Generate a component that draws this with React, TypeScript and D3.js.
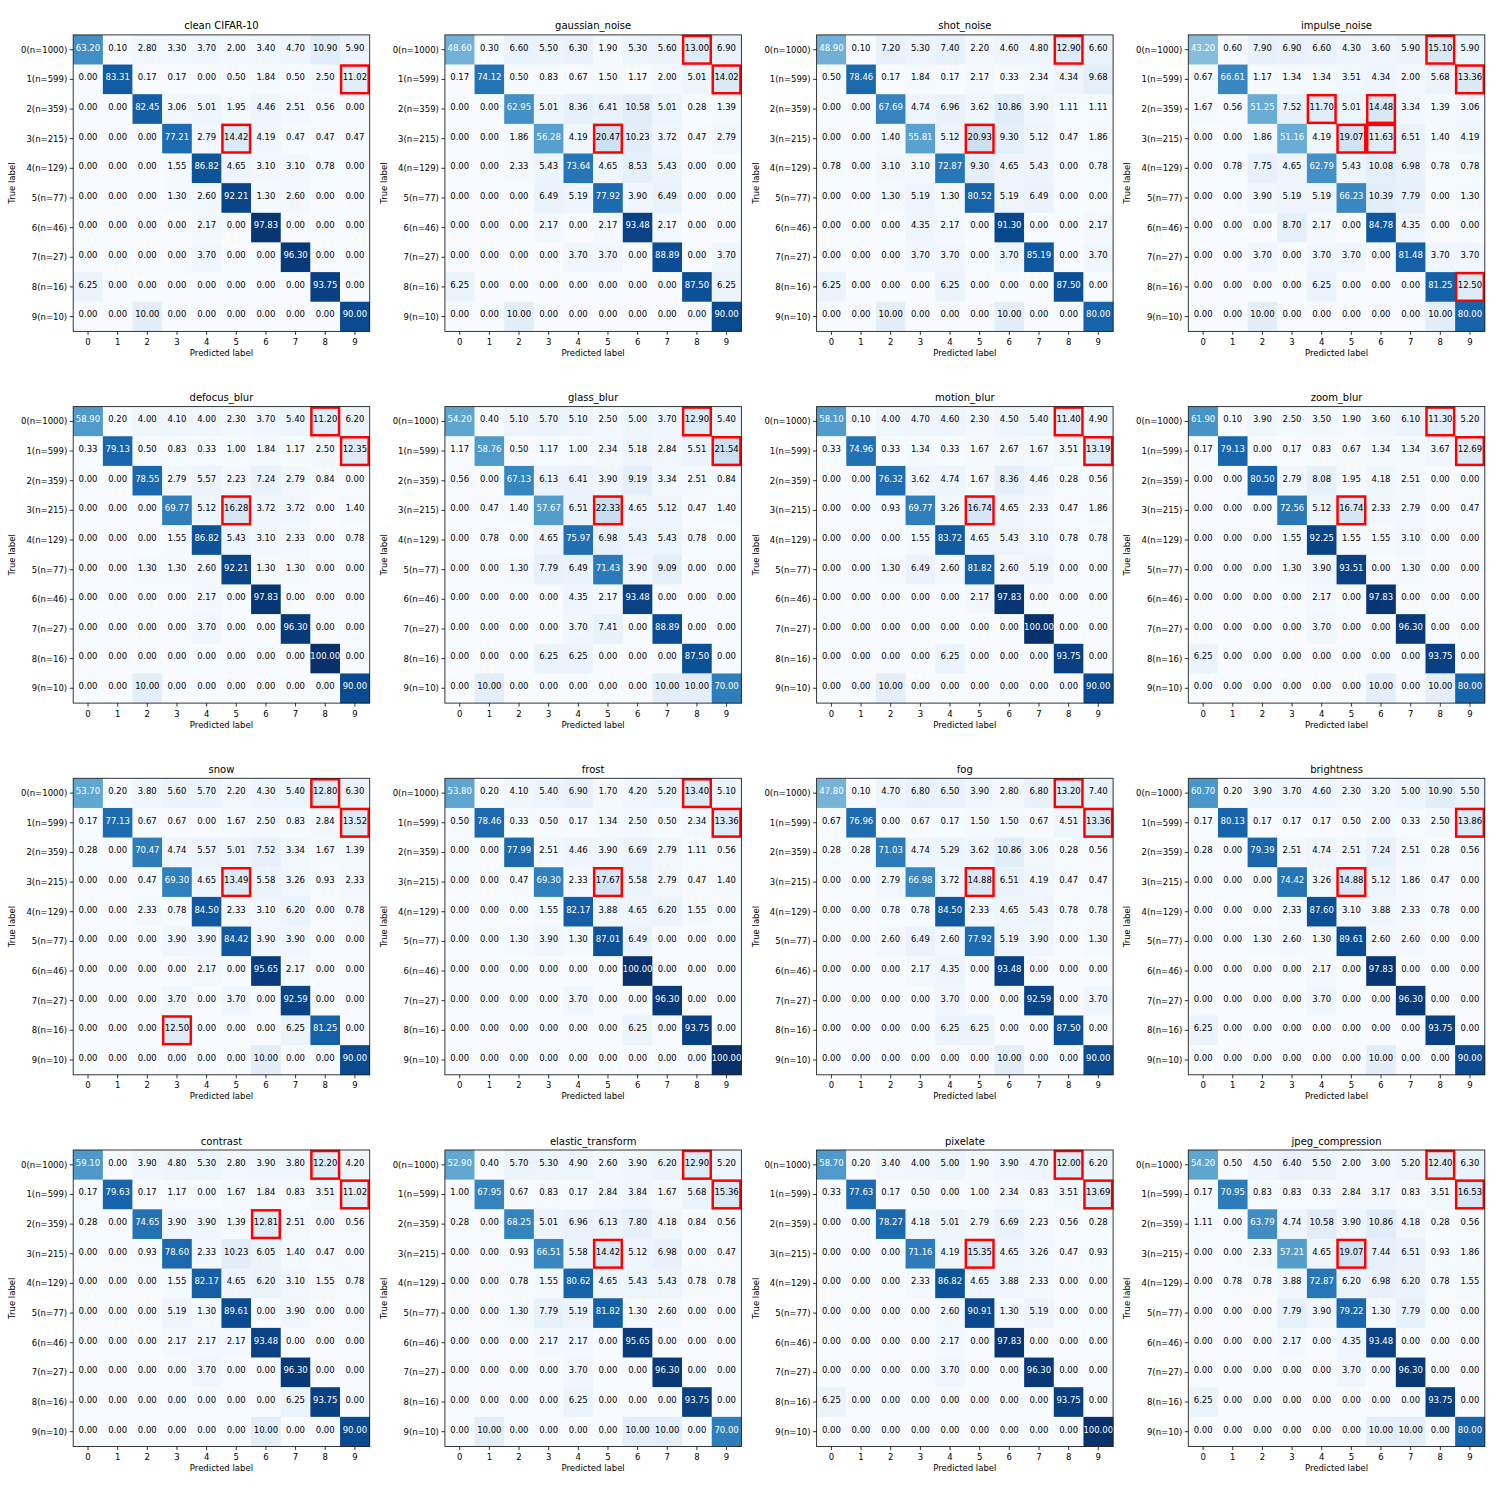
import { useMemo } from 'react';
import * as d3 from 'd3';

// one 10x10 matrix (row-normalised %) per corruption
const cleanCifar10 = [
  [63.2, 0.1, 2.8, 3.3, 3.7, 2.0, 3.4, 4.7, 10.9, 5.9],
  [0.0, 83.31, 0.17, 0.17, 0.0, 0.5, 1.84, 0.5, 2.5, 11.02],
  [0.0, 0.0, 82.45, 3.06, 5.01, 1.95, 4.46, 2.51, 0.56, 0.0],
  [0.0, 0.0, 0.0, 77.21, 2.79, 14.42, 4.19, 0.47, 0.47, 0.47],
  [0.0, 0.0, 0.0, 1.55, 86.82, 4.65, 3.1, 3.1, 0.78, 0.0],
  [0.0, 0.0, 0.0, 1.3, 2.6, 92.21, 1.3, 2.6, 0.0, 0.0],
  [0.0, 0.0, 0.0, 0.0, 2.17, 0.0, 97.83, 0.0, 0.0, 0.0],
  [0.0, 0.0, 0.0, 0.0, 3.7, 0.0, 0.0, 96.3, 0.0, 0.0],
  [6.25, 0.0, 0.0, 0.0, 0.0, 0.0, 0.0, 0.0, 93.75, 0.0],
  [0.0, 0.0, 10.0, 0.0, 0.0, 0.0, 0.0, 0.0, 0.0, 90.0],
];
const gaussianNoise = [
  [48.6, 0.3, 6.6, 5.5, 6.3, 1.9, 5.3, 5.6, 13.0, 6.9],
  [0.17, 74.12, 0.5, 0.83, 0.67, 1.5, 1.17, 2.0, 5.01, 14.02],
  [0.0, 0.0, 62.95, 5.01, 8.36, 6.41, 10.58, 5.01, 0.28, 1.39],
  [0.0, 0.0, 1.86, 56.28, 4.19, 20.47, 10.23, 3.72, 0.47, 2.79],
  [0.0, 0.0, 2.33, 5.43, 73.64, 4.65, 8.53, 5.43, 0.0, 0.0],
  [0.0, 0.0, 0.0, 6.49, 5.19, 77.92, 3.9, 6.49, 0.0, 0.0],
  [0.0, 0.0, 0.0, 2.17, 0.0, 2.17, 93.48, 2.17, 0.0, 0.0],
  [0.0, 0.0, 0.0, 0.0, 3.7, 3.7, 0.0, 88.89, 0.0, 3.7],
  [6.25, 0.0, 0.0, 0.0, 0.0, 0.0, 0.0, 0.0, 87.5, 6.25],
  [0.0, 0.0, 10.0, 0.0, 0.0, 0.0, 0.0, 0.0, 0.0, 90.0],
];
const shotNoise = [
  [48.9, 0.1, 7.2, 5.3, 7.4, 2.2, 4.6, 4.8, 12.9, 6.6],
  [0.5, 78.46, 0.17, 1.84, 0.17, 2.17, 0.33, 2.34, 4.34, 9.68],
  [0.0, 0.0, 67.69, 4.74, 6.96, 3.62, 10.86, 3.9, 1.11, 1.11],
  [0.0, 0.0, 1.4, 55.81, 5.12, 20.93, 9.3, 5.12, 0.47, 1.86],
  [0.78, 0.0, 3.1, 3.1, 72.87, 9.3, 4.65, 5.43, 0.0, 0.78],
  [0.0, 0.0, 1.3, 5.19, 1.3, 80.52, 5.19, 6.49, 0.0, 0.0],
  [0.0, 0.0, 0.0, 4.35, 2.17, 0.0, 91.3, 0.0, 0.0, 2.17],
  [0.0, 0.0, 0.0, 3.7, 3.7, 0.0, 3.7, 85.19, 0.0, 3.7],
  [6.25, 0.0, 0.0, 0.0, 6.25, 0.0, 0.0, 0.0, 87.5, 0.0],
  [0.0, 0.0, 10.0, 0.0, 0.0, 0.0, 10.0, 0.0, 0.0, 80.0],
];
const impulseNoise = [
  [43.2, 0.6, 7.9, 6.9, 6.6, 4.3, 3.6, 5.9, 15.1, 5.9],
  [0.67, 66.61, 1.17, 1.34, 1.34, 3.51, 4.34, 2.0, 5.68, 13.36],
  [1.67, 0.56, 51.25, 7.52, 11.7, 5.01, 14.48, 3.34, 1.39, 3.06],
  [0.0, 0.0, 1.86, 51.16, 4.19, 19.07, 11.63, 6.51, 1.4, 4.19],
  [0.0, 0.78, 7.75, 4.65, 62.79, 5.43, 10.08, 6.98, 0.78, 0.78],
  [0.0, 0.0, 3.9, 5.19, 5.19, 66.23, 10.39, 7.79, 0.0, 1.3],
  [0.0, 0.0, 0.0, 8.7, 2.17, 0.0, 84.78, 4.35, 0.0, 0.0],
  [0.0, 0.0, 3.7, 0.0, 3.7, 3.7, 0.0, 81.48, 3.7, 3.7],
  [0.0, 0.0, 0.0, 0.0, 6.25, 0.0, 0.0, 0.0, 81.25, 12.5],
  [0.0, 0.0, 10.0, 0.0, 0.0, 0.0, 0.0, 0.0, 10.0, 80.0],
];
const defocusBlur = [
  [58.9, 0.2, 4.0, 4.1, 4.0, 2.3, 3.7, 5.4, 11.2, 6.2],
  [0.33, 79.13, 0.5, 0.83, 0.33, 1.0, 1.84, 1.17, 2.5, 12.35],
  [0.0, 0.0, 78.55, 2.79, 5.57, 2.23, 7.24, 2.79, 0.84, 0.0],
  [0.0, 0.0, 0.0, 69.77, 5.12, 16.28, 3.72, 3.72, 0.0, 1.4],
  [0.0, 0.0, 0.0, 1.55, 86.82, 5.43, 3.1, 2.33, 0.0, 0.78],
  [0.0, 0.0, 1.3, 1.3, 2.6, 92.21, 1.3, 1.3, 0.0, 0.0],
  [0.0, 0.0, 0.0, 0.0, 2.17, 0.0, 97.83, 0.0, 0.0, 0.0],
  [0.0, 0.0, 0.0, 0.0, 3.7, 0.0, 0.0, 96.3, 0.0, 0.0],
  [0.0, 0.0, 0.0, 0.0, 0.0, 0.0, 0.0, 0.0, 100.0, 0.0],
  [0.0, 0.0, 10.0, 0.0, 0.0, 0.0, 0.0, 0.0, 0.0, 90.0],
];
const glassBlur = [
  [54.2, 0.4, 5.1, 5.7, 5.1, 2.5, 5.0, 3.7, 12.9, 5.4],
  [1.17, 58.76, 0.5, 1.17, 1.0, 2.34, 5.18, 2.84, 5.51, 21.54],
  [0.56, 0.0, 67.13, 6.13, 6.41, 3.9, 9.19, 3.34, 2.51, 0.84],
  [0.0, 0.47, 1.4, 57.67, 6.51, 22.33, 4.65, 5.12, 0.47, 1.4],
  [0.0, 0.78, 0.0, 4.65, 75.97, 6.98, 5.43, 5.43, 0.78, 0.0],
  [0.0, 0.0, 1.3, 7.79, 6.49, 71.43, 3.9, 9.09, 0.0, 0.0],
  [0.0, 0.0, 0.0, 0.0, 4.35, 2.17, 93.48, 0.0, 0.0, 0.0],
  [0.0, 0.0, 0.0, 0.0, 3.7, 7.41, 0.0, 88.89, 0.0, 0.0],
  [0.0, 0.0, 0.0, 6.25, 6.25, 0.0, 0.0, 0.0, 87.5, 0.0],
  [0.0, 10.0, 0.0, 0.0, 0.0, 0.0, 0.0, 10.0, 10.0, 70.0],
];
const motionBlur = [
  [58.1, 0.1, 4.0, 4.7, 4.6, 2.3, 4.5, 5.4, 11.4, 4.9],
  [0.33, 74.96, 0.33, 1.34, 0.33, 1.67, 2.67, 1.67, 3.51, 13.19],
  [0.0, 0.0, 76.32, 3.62, 4.74, 1.67, 8.36, 4.46, 0.28, 0.56],
  [0.0, 0.0, 0.93, 69.77, 3.26, 16.74, 4.65, 2.33, 0.47, 1.86],
  [0.0, 0.0, 0.0, 1.55, 83.72, 4.65, 5.43, 3.1, 0.78, 0.78],
  [0.0, 0.0, 1.3, 6.49, 2.6, 81.82, 2.6, 5.19, 0.0, 0.0],
  [0.0, 0.0, 0.0, 0.0, 0.0, 2.17, 97.83, 0.0, 0.0, 0.0],
  [0.0, 0.0, 0.0, 0.0, 0.0, 0.0, 0.0, 100.0, 0.0, 0.0],
  [0.0, 0.0, 0.0, 0.0, 6.25, 0.0, 0.0, 0.0, 93.75, 0.0],
  [0.0, 0.0, 10.0, 0.0, 0.0, 0.0, 0.0, 0.0, 0.0, 90.0],
];
const zoomBlur = [
  [61.9, 0.1, 3.9, 2.5, 3.5, 1.9, 3.6, 6.1, 11.3, 5.2],
  [0.17, 79.13, 0.0, 0.17, 0.83, 0.67, 1.34, 1.34, 3.67, 12.69],
  [0.0, 0.0, 80.5, 2.79, 8.08, 1.95, 4.18, 2.51, 0.0, 0.0],
  [0.0, 0.0, 0.0, 72.56, 5.12, 16.74, 2.33, 2.79, 0.0, 0.47],
  [0.0, 0.0, 0.0, 1.55, 92.25, 1.55, 1.55, 3.1, 0.0, 0.0],
  [0.0, 0.0, 0.0, 1.3, 3.9, 93.51, 0.0, 1.3, 0.0, 0.0],
  [0.0, 0.0, 0.0, 0.0, 2.17, 0.0, 97.83, 0.0, 0.0, 0.0],
  [0.0, 0.0, 0.0, 0.0, 3.7, 0.0, 0.0, 96.3, 0.0, 0.0],
  [6.25, 0.0, 0.0, 0.0, 0.0, 0.0, 0.0, 0.0, 93.75, 0.0],
  [0.0, 0.0, 0.0, 0.0, 0.0, 0.0, 10.0, 0.0, 10.0, 80.0],
];
const snow = [
  [53.7, 0.2, 3.8, 5.6, 5.7, 2.2, 4.3, 5.4, 12.8, 6.3],
  [0.17, 77.13, 0.67, 0.67, 0.0, 1.67, 2.5, 0.83, 2.84, 13.52],
  [0.28, 0.0, 70.47, 4.74, 5.57, 5.01, 7.52, 3.34, 1.67, 1.39],
  [0.0, 0.0, 0.47, 69.3, 4.65, 13.49, 5.58, 3.26, 0.93, 2.33],
  [0.0, 0.0, 2.33, 0.78, 84.5, 2.33, 3.1, 6.2, 0.0, 0.78],
  [0.0, 0.0, 0.0, 3.9, 3.9, 84.42, 3.9, 3.9, 0.0, 0.0],
  [0.0, 0.0, 0.0, 0.0, 2.17, 0.0, 95.65, 2.17, 0.0, 0.0],
  [0.0, 0.0, 0.0, 3.7, 0.0, 3.7, 0.0, 92.59, 0.0, 0.0],
  [0.0, 0.0, 0.0, 12.5, 0.0, 0.0, 0.0, 6.25, 81.25, 0.0],
  [0.0, 0.0, 0.0, 0.0, 0.0, 0.0, 10.0, 0.0, 0.0, 90.0],
];
const frost = [
  [53.8, 0.2, 4.1, 5.4, 6.9, 1.7, 4.2, 5.2, 13.4, 5.1],
  [0.5, 78.46, 0.33, 0.5, 0.17, 1.34, 2.5, 0.5, 2.34, 13.36],
  [0.0, 0.0, 77.99, 2.51, 4.46, 3.9, 6.69, 2.79, 1.11, 0.56],
  [0.0, 0.0, 0.47, 69.3, 2.33, 17.67, 5.58, 2.79, 0.47, 1.4],
  [0.0, 0.0, 0.0, 1.55, 82.17, 3.88, 4.65, 6.2, 1.55, 0.0],
  [0.0, 0.0, 1.3, 3.9, 1.3, 87.01, 6.49, 0.0, 0.0, 0.0],
  [0.0, 0.0, 0.0, 0.0, 0.0, 0.0, 100.0, 0.0, 0.0, 0.0],
  [0.0, 0.0, 0.0, 0.0, 3.7, 0.0, 0.0, 96.3, 0.0, 0.0],
  [0.0, 0.0, 0.0, 0.0, 0.0, 0.0, 6.25, 0.0, 93.75, 0.0],
  [0.0, 0.0, 0.0, 0.0, 0.0, 0.0, 0.0, 0.0, 0.0, 100.0],
];
const fog = [
  [47.8, 0.1, 4.7, 6.8, 6.5, 3.9, 2.8, 6.8, 13.2, 7.4],
  [0.67, 76.96, 0.0, 0.67, 0.17, 1.5, 1.5, 0.67, 4.51, 13.36],
  [0.28, 0.28, 71.03, 4.74, 5.29, 3.62, 10.86, 3.06, 0.28, 0.56],
  [0.0, 0.0, 2.79, 66.98, 3.72, 14.88, 6.51, 4.19, 0.47, 0.47],
  [0.0, 0.0, 0.78, 0.78, 84.5, 2.33, 4.65, 5.43, 0.78, 0.78],
  [0.0, 0.0, 2.6, 6.49, 2.6, 77.92, 5.19, 3.9, 0.0, 1.3],
  [0.0, 0.0, 0.0, 2.17, 4.35, 0.0, 93.48, 0.0, 0.0, 0.0],
  [0.0, 0.0, 0.0, 0.0, 3.7, 0.0, 0.0, 92.59, 0.0, 3.7],
  [0.0, 0.0, 0.0, 0.0, 6.25, 6.25, 0.0, 0.0, 87.5, 0.0],
  [0.0, 0.0, 0.0, 0.0, 0.0, 0.0, 10.0, 0.0, 0.0, 90.0],
];
const brightness = [
  [60.7, 0.2, 3.9, 3.7, 4.6, 2.3, 3.2, 5.0, 10.9, 5.5],
  [0.17, 80.13, 0.17, 0.17, 0.17, 0.5, 2.0, 0.33, 2.5, 13.86],
  [0.28, 0.0, 79.39, 2.51, 4.74, 2.51, 7.24, 2.51, 0.28, 0.56],
  [0.0, 0.0, 0.0, 74.42, 3.26, 14.88, 5.12, 1.86, 0.47, 0.0],
  [0.0, 0.0, 0.0, 2.33, 87.6, 3.1, 3.88, 2.33, 0.78, 0.0],
  [0.0, 0.0, 1.3, 2.6, 1.3, 89.61, 2.6, 2.6, 0.0, 0.0],
  [0.0, 0.0, 0.0, 0.0, 2.17, 0.0, 97.83, 0.0, 0.0, 0.0],
  [0.0, 0.0, 0.0, 0.0, 3.7, 0.0, 0.0, 96.3, 0.0, 0.0],
  [6.25, 0.0, 0.0, 0.0, 0.0, 0.0, 0.0, 0.0, 93.75, 0.0],
  [0.0, 0.0, 0.0, 0.0, 0.0, 0.0, 10.0, 0.0, 0.0, 90.0],
];
const contrast = [
  [59.1, 0.0, 3.9, 4.8, 5.3, 2.8, 3.9, 3.8, 12.2, 4.2],
  [0.17, 79.63, 0.17, 1.17, 0.0, 1.67, 1.84, 0.83, 3.51, 11.02],
  [0.28, 0.0, 74.65, 3.9, 3.9, 1.39, 12.81, 2.51, 0.0, 0.56],
  [0.0, 0.0, 0.93, 78.6, 2.33, 10.23, 6.05, 1.4, 0.47, 0.0],
  [0.0, 0.0, 0.0, 1.55, 82.17, 4.65, 6.2, 3.1, 1.55, 0.78],
  [0.0, 0.0, 0.0, 5.19, 1.3, 89.61, 0.0, 3.9, 0.0, 0.0],
  [0.0, 0.0, 0.0, 2.17, 2.17, 2.17, 93.48, 0.0, 0.0, 0.0],
  [0.0, 0.0, 0.0, 0.0, 3.7, 0.0, 0.0, 96.3, 0.0, 0.0],
  [0.0, 0.0, 0.0, 0.0, 0.0, 0.0, 0.0, 6.25, 93.75, 0.0],
  [0.0, 0.0, 0.0, 0.0, 0.0, 0.0, 10.0, 0.0, 0.0, 90.0],
];
const elasticTransform = [
  [52.9, 0.4, 5.7, 5.3, 4.9, 2.6, 3.9, 6.2, 12.9, 5.2],
  [1.0, 67.95, 0.67, 0.83, 0.17, 2.84, 3.84, 1.67, 5.68, 15.36],
  [0.28, 0.0, 68.25, 5.01, 6.96, 6.13, 7.8, 4.18, 0.84, 0.56],
  [0.0, 0.0, 0.93, 66.51, 5.58, 14.42, 5.12, 6.98, 0.0, 0.47],
  [0.0, 0.0, 0.78, 1.55, 80.62, 4.65, 5.43, 5.43, 0.78, 0.78],
  [0.0, 0.0, 1.3, 7.79, 5.19, 81.82, 1.3, 2.6, 0.0, 0.0],
  [0.0, 0.0, 0.0, 2.17, 2.17, 0.0, 95.65, 0.0, 0.0, 0.0],
  [0.0, 0.0, 0.0, 0.0, 3.7, 0.0, 0.0, 96.3, 0.0, 0.0],
  [0.0, 0.0, 0.0, 0.0, 6.25, 0.0, 0.0, 0.0, 93.75, 0.0],
  [0.0, 10.0, 0.0, 0.0, 0.0, 0.0, 10.0, 10.0, 0.0, 70.0],
];
const pixelate = [
  [58.7, 0.2, 3.4, 4.0, 5.0, 1.9, 3.9, 4.7, 12.0, 6.2],
  [0.33, 77.63, 0.17, 0.5, 0.0, 1.0, 2.34, 0.83, 3.51, 13.69],
  [0.0, 0.0, 78.27, 4.18, 5.01, 2.79, 6.69, 2.23, 0.56, 0.28],
  [0.0, 0.0, 0.0, 71.16, 4.19, 15.35, 4.65, 3.26, 0.47, 0.93],
  [0.0, 0.0, 0.0, 2.33, 86.82, 4.65, 3.88, 2.33, 0.0, 0.0],
  [0.0, 0.0, 0.0, 0.0, 2.6, 90.91, 1.3, 5.19, 0.0, 0.0],
  [0.0, 0.0, 0.0, 0.0, 2.17, 0.0, 97.83, 0.0, 0.0, 0.0],
  [0.0, 0.0, 0.0, 0.0, 3.7, 0.0, 0.0, 96.3, 0.0, 0.0],
  [6.25, 0.0, 0.0, 0.0, 0.0, 0.0, 0.0, 0.0, 93.75, 0.0],
  [0.0, 0.0, 0.0, 0.0, 0.0, 0.0, 0.0, 0.0, 0.0, 100.0],
];
const jpegCompression = [
  [54.2, 0.5, 4.5, 6.4, 5.5, 2.0, 3.0, 5.2, 12.4, 6.3],
  [0.17, 70.95, 0.83, 0.83, 0.33, 2.84, 3.17, 0.83, 3.51, 16.53],
  [1.11, 0.0, 63.79, 4.74, 10.58, 3.9, 10.86, 4.18, 0.28, 0.56],
  [0.0, 0.0, 2.33, 57.21, 4.65, 19.07, 7.44, 6.51, 0.93, 1.86],
  [0.0, 0.78, 0.78, 3.88, 72.87, 6.2, 6.98, 6.2, 0.78, 1.55],
  [0.0, 0.0, 0.0, 7.79, 3.9, 79.22, 1.3, 7.79, 0.0, 0.0],
  [0.0, 0.0, 0.0, 2.17, 0.0, 4.35, 93.48, 0.0, 0.0, 0.0],
  [0.0, 0.0, 0.0, 0.0, 0.0, 3.7, 0.0, 96.3, 0.0, 0.0],
  [6.25, 0.0, 0.0, 0.0, 0.0, 0.0, 0.0, 0.0, 93.75, 0.0],
  [0.0, 0.0, 0.0, 0.0, 0.0, 0.0, 10.0, 10.0, 0.0, 80.0],
];

const titles = [
  'clean CIFAR-10', 'gaussian_noise', 'shot_noise', 'impulse_noise',
  'defocus_blur', 'glass_blur', 'motion_blur', 'zoom_blur',
  'snow', 'frost', 'fog', 'brightness',
  'contrast', 'elastic_transform', 'pixelate', 'jpeg_compression',
];
const matrices = [
  cleanCifar10, gaussianNoise, shotNoise, impulseNoise,
  defocusBlur, glassBlur, motionBlur, zoomBlur,
  snow, frost, fog, brightness,
  contrast, elasticTransform, pixelate, jpegCompression,
];
const classLabels = ['0', '1', '2', '3', '4', '5', '6', '7', '8', '9'];
const rowCounts = [1000, 599, 359, 215, 129, 77, 46, 27, 16, 10];

const W = 1495;
const H = 1495;
const PANEL_STEP = 371.7;
const GRID = 296.5;
const LEFT0 = 73.2;
const TOP0 = 34.9;
const HIGHLIGHT_MIN = 11; // off-diagonal cells above this get a red box
const WHITE_TEXT_MIN = 35;
const FONT = 'DejaVu Sans, sans-serif';

function Matrix({ data, title, ox, oy }) {
  const x = d3.scaleBand().domain(classLabels).range([0, GRID]);
  const y = d3.scaleBand().domain(classLabels).range([0, GRID]);
  const color = d3.scaleSequential(d3.interpolateBlues).domain([0, 100]);
  const bw = x.bandwidth();

  return (
    <g transform={`translate(${ox},${oy})`} fontFamily={FONT}>
      <text x={GRID / 2} y={-5.5} textAnchor="middle" fontSize={10}>{title}</text>
      {data.map((row, i) =>
        row.map((v, j) => (
          <rect key={`c-${i}-${j}`} x={x(classLabels[j])} y={y(classLabels[i])}
            width={bw + 0.3} height={bw + 0.3} fill={color(v)} />
        ))
      )}
      {data.map((row, i) =>
        row.map((v, j) => (
          <text key={`t-${i}-${j}`} x={x(classLabels[j]) + bw / 2} y={y(classLabels[i]) + bw / 2}
            dy="0.1em" textAnchor="middle" fontSize={8.5}
            fill={v > WHITE_TEXT_MIN ? '#ffffff' : '#000000'}>
            {v.toFixed(2)}
          </text>
        ))
      )}
      {data.map((row, i) =>
        row.map((v, j) => (i !== j && v > HIGHLIGHT_MIN ? (
          <rect key={`h-${i}-${j}`} x={x(classLabels[j]) + 1} y={y(classLabels[i]) + 1}
            width={bw - 2} height={bw - 2} fill="none" stroke="#ff0000" strokeWidth={2.5} />
        ) : null))
      )}
      <rect x={0} y={0} width={GRID} height={GRID} fill="none" stroke="#222" strokeWidth={0.9} />
      {classLabels.map((c, i) => (
        <g key={`y-${c}`} transform={`translate(0,${y(c) + bw / 2})`}>
          <line x1={-3.5} x2={0} stroke="#000" strokeWidth={0.8} />
          <text x={-6} dy="0.35em" textAnchor="end" fontSize={8.5}>{`${c}(n=${rowCounts[i]})`}</text>
        </g>
      ))}
      {classLabels.map((c) => (
        <g key={`x-${c}`} transform={`translate(${x(c) + bw / 2},${GRID})`}>
          <line y1={0} y2={3.5} stroke="#000" strokeWidth={0.8} />
          <text y={13.5} textAnchor="middle" fontSize={8.5}>{c}</text>
        </g>
      ))}
      <text x={GRID / 2} y={GRID + 24.5} textAnchor="middle" fontSize={8.5}>Predicted label</text>
      <text transform={`translate(${-58},${GRID / 2}) rotate(-90)`} textAnchor="middle" fontSize={8.5}>True label</text>
    </g>
  );
}

export default function App() {
  const panels = useMemo(() => matrices.map((m, k) => ({
    data: m,
    title: titles[k],
    ox: LEFT0 + (k % 4) * PANEL_STEP,
    oy: TOP0 + Math.floor(k / 4) * PANEL_STEP,
  })), []);

  return (
    <svg width={W} height={H} style={{ position: 'absolute', left: 0, top: 0, background: '#fff' }}>
      <rect width={W} height={H} fill="#fff" />
      {panels.map((p, k) => (
        <Matrix key={`panel-${k}`} {...p} />
      ))}
    </svg>
  );
}
